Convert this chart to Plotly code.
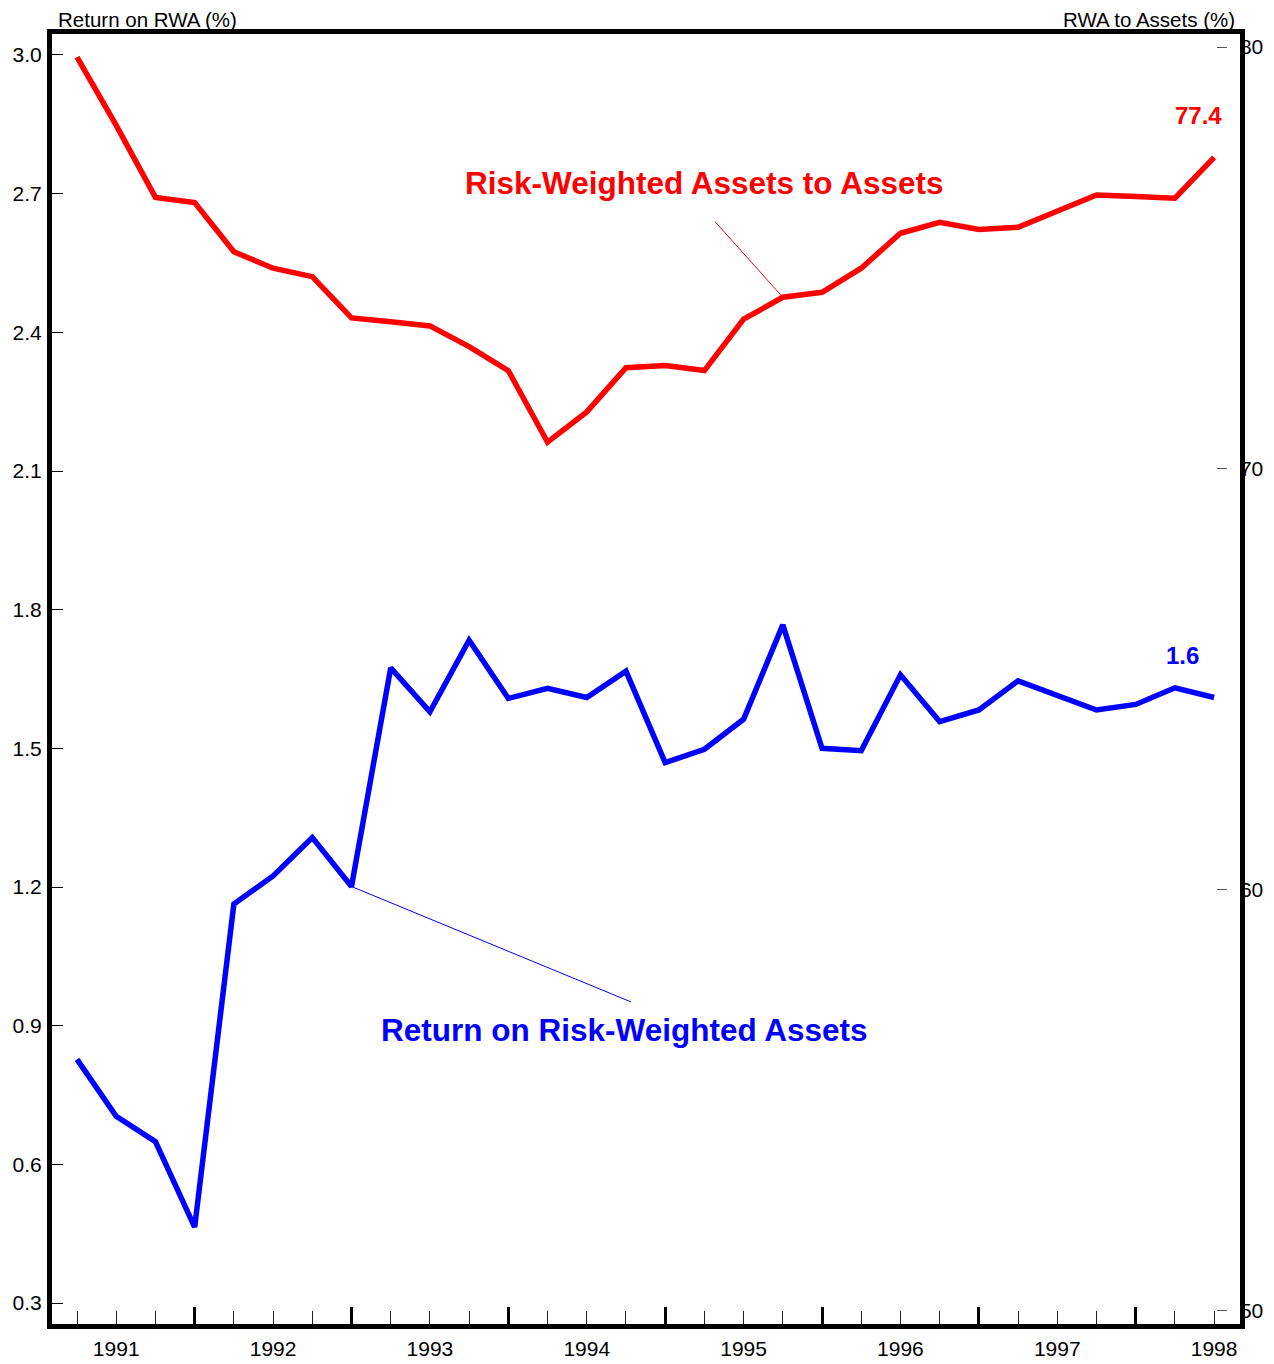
import plotly.graph_objects as go

# Quarterly observations (index 0 = 1990 Q4 ... index 29 = 1998 Q1)
quarters = list(range(30))
year_labels = ["1991", "1992", "1993", "1994", "1995", "1996", "1997", "1998"]
year_label_pos = [1, 5, 9, 13, 17, 21, 25, 29]
year_bounds = [3, 7, 11, 15, 19, 23, 27]

# Risk-weighted assets to assets (%), right axis
rwa_to_assets = [79.76, 78.14, 76.43, 76.31, 75.14, 74.75, 74.55, 73.57, 73.48, 73.38,
                 72.89, 72.32, 70.62, 71.34, 72.39, 72.44, 72.32, 73.54, 74.06, 74.18,
                 74.75, 75.58, 75.84, 75.67, 75.72, 76.11, 76.49, 76.45, 76.41, 77.38]

# Return on risk-weighted assets (%), left axis
return_on_rwa = [0.827, 0.704, 0.649, 0.464, 1.163, 1.224, 1.307, 1.201, 1.674, 1.579,
                 1.734, 1.608, 1.630, 1.610, 1.667, 1.469, 1.498, 1.563, 1.767, 1.500,
                 1.495, 1.659, 1.558, 1.583, 1.646, 1.615, 1.583, 1.595, 1.631, 1.610]

left_ticks = [0.3, 0.6, 0.9, 1.2, 1.5, 1.8, 2.1, 2.4, 2.7, 3.0]
right_ticks = [50, 60, 70, 80]

RED = "#FF0000"
BLUE = "#0000FF"
FONT = "Arial, Liberation Sans, sans-serif"

fig = go.Figure()
fig.add_trace(go.Scatter(x=quarters, y=return_on_rwa, mode="lines",
                         line=dict(color=BLUE, width=5.5), xaxis="x", yaxis="y",
                         showlegend=False, hoverinfo="skip"))
fig.add_trace(go.Scatter(x=quarters, y=rwa_to_assets, mode="lines",
                         line=dict(color=RED, width=5.5), xaxis="x2", yaxis="y2",
                         showlegend=False, hoverinfo="skip"))

xr = [-0.638, 29.66]
fig.update_layout(
    width=1266, height=1356,
    margin=dict(l=44, r=34, t=26, b=40, autoexpand=False),
    plot_bgcolor="white", paper_bgcolor="white",
    font=dict(family=FONT, size=21, color="black"),
    # tick marks axis + frame
    xaxis=dict(range=xr, tickmode="array", tickvals=year_bounds, ticks="inside",
               ticklen=17, tickwidth=2.5, tickcolor="black", showticklabels=False,
               showgrid=False, zeroline=False, showline=True, linewidth=5,
               linecolor="black", mirror=True, automargin=False,
               minor=dict(tickmode="array", tickvals=quarters, ticks="inside",
                          ticklen=13, tickwidth=1, tickcolor="#222", showgrid=False)),
    # year labels axis
    xaxis2=dict(range=xr, overlaying="x", anchor="free", position=0, side="bottom",
                tickmode="array", tickvals=year_label_pos, ticktext=year_labels,
                ticks="", showgrid=False, zeroline=False, showline=False,
                automargin=False, ticklabelstandoff=10, tickfont=dict(size=21)),
    yaxis=dict(range=[0.2546, 3.0454], tickmode="array", tickvals=left_ticks,
               ticktext=[f"{v:.1f}" for v in left_ticks],
               ticks="inside", ticklen=11, tickwidth=1, tickcolor="black",
               showgrid=False, zeroline=False, showline=True, linewidth=5,
               linecolor="black", mirror=True, ticklabelstandoff=1, automargin=False),
    yaxis2=dict(range=[49.691, 80.309], overlaying="y", side="right", anchor="free",
                position=0.989, tickmode="array", tickvals=right_ticks,
                ticks="inside", ticklen=10, tickwidth=1, tickcolor="#555",
                showgrid=False, zeroline=False, showline=False, ticklabelstandoff=12,
                automargin=False),
)

ann = []
ann.append(dict(text="Return on RWA (%)", xref="paper", yref="paper", x=0, y=1,
                xanchor="left", yanchor="middle", xshift=4, yshift=15,
                showarrow=False, font=dict(size=20.5)))
ann.append(dict(text="RWA to Assets (%)", xref="paper", yref="paper", x=1, y=1,
                xanchor="right", yanchor="middle", xshift=-3, yshift=15,
                showarrow=False, font=dict(size=20.5)))
ann.append(dict(text="<b>Risk-Weighted Assets to Assets</b>", xref="paper", yref="paper",
                x=0.5488, y=0.8845, xanchor="center", yanchor="middle", showarrow=False,
                font=dict(size=31.5, color=RED)))
ann.append(dict(text="<b>Return on Risk-Weighted Assets</b>", xref="paper", yref="paper",
                x=0.4823, y=0.2279, xanchor="center", yanchor="middle", showarrow=False,
                font=dict(size=31.5, color=BLUE)))
# leader lines
ann.append(dict(text="", x=18, y=rwa_to_assets[18], xref="x2", yref="y2",
                showarrow=True, arrowhead=0, arrowwidth=1, arrowcolor=RED,
                ax=-69, ay=-77, axref="pixel", ayref="pixel"))
ann.append(dict(text="", x=7, y=return_on_rwa[7], xref="x", yref="y",
                showarrow=True, arrowhead=0, arrowwidth=1, arrowcolor=BLUE,
                ax=281, ay=116, axref="pixel", ayref="pixel"))
# end-value labels
ann.append(dict(text=f"<b>{rwa_to_assets[-1]:.1f}</b>", x=quarters[-1], y=rwa_to_assets[-1],
                xref="x2", yref="y2", showarrow=False, xshift=-16, yshift=42,
                font=dict(size=24, color=RED)))
ann.append(dict(text=f"<b>{return_on_rwa[-1]:.1f}</b>", x=quarters[-1], y=return_on_rwa[-1],
                xref="x", yref="y", showarrow=False, xshift=-32, yshift=42,
                font=dict(size=24, color=BLUE)))
fig.update_layout(annotations=ann)

fig.write_html("out.html")
